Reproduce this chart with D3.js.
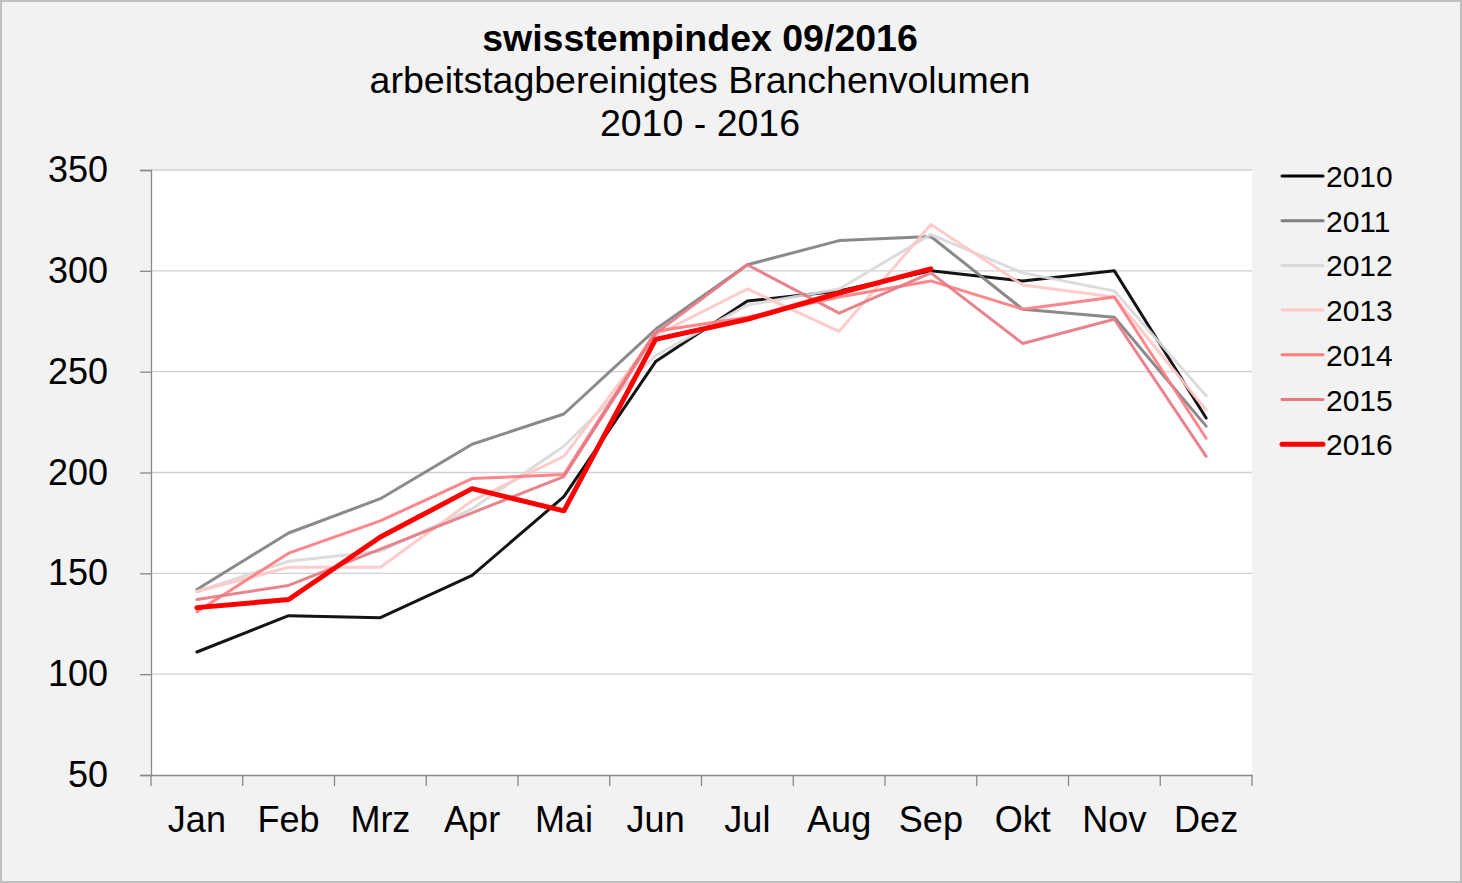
<!DOCTYPE html>
<html><head><meta charset="utf-8">
<script src="https://cdn.jsdelivr.net/npm/d3@7"></script>
<style>
html,body{margin:0;padding:0;background:#f2f2f2;}
svg{display:block;font-family:"Liberation Sans",Arial,sans-serif;}
</style></head>
<body>
<svg id="chart" width="1462" height="883"></svg>
<script>
const months = ["Jan","Feb","Mrz","Apr","Mai","Jun","Jul","Aug","Sep","Okt","Nov","Dez"];
const years = ["2010","2011","2012","2013","2014","2015","2016"];
const v2010 = [111,129,128,149,188,255,285,290,300,295,300,227];
const v2011 = [142,170,187,214,229,271,303,315,317,281,277,223];
const v2012 = [141,156,161,182,213,258,283,291,318,299,290,238];
const v2013 = [141,153,153,186,208,268,291,270,323,293,287,231];
const v2014 = [131,160,176,197,199,270,277,287,295,281,287,217];
const v2015 = [137,144,162,180,198,269,303,279,299,264,276,208];
const v2016 = [133,137,168,192,181,266,276,289,301];
const yTicks = [50,100,150,200,250,300,350];
const titleLines = ["swisstempindex 09/2016","arbeitstagbereinigtes Branchenvolumen","2010 - 2016"];

const seriesValues = [v2010,v2011,v2012,v2013,v2014,v2015,v2016];
const colors = ["#000000","#808080","#d9d9d9","#ffc7c7","#ff7c80","#e57a83","#ff0000"];
const widths = [3,3,3,3,3,3,5];

const svg = d3.select("#chart");
const W = 1462, H = 883;
const L = 151, R = 1252, T = 170, B = 775;

svg.append("rect").attr("x",1).attr("y",1).attr("width",W-2).attr("height",H-2)
  .attr("fill","#f2f2f2").attr("stroke","#bfbfbf").attr("stroke-width",2);

svg.append("rect").attr("x",L).attr("y",T).attr("width",R-L).attr("height",B-T).attr("fill","#ffffff");

const x = d3.scaleBand().domain(months).range([L,R]);
const y = d3.scaleLinear().domain([50,350]).range([B,T]);

// gridlines
svg.append("g").selectAll("line").data(yTicks.filter(d=>d>50)).join("line")
  .attr("x1",L).attr("x2",R).attr("y1",d=>y(d)).attr("y2",d=>y(d))
  .attr("stroke","#d0d0d0").attr("stroke-width",1.3);

// y axis
const yAxis = d3.axisLeft(y).tickValues(yTicks).tickSize(11).tickPadding(32).tickFormat(d3.format("d"));
const gy = svg.append("g").attr("transform",`translate(${L},0)`).call(yAxis);
gy.select(".domain").attr("stroke","#898989").attr("stroke-width",1.3);
gy.selectAll(".tick line").attr("stroke","#898989").attr("stroke-width",1.3);
gy.selectAll("text").attr("font-size",36).attr("fill","#000").attr("font-family","Liberation Sans, Arial, sans-serif");

// x axis
const xAxis = d3.axisBottom(x).tickSize(0).tickPadding(31);
const gx = svg.append("g").attr("transform",`translate(0,${B})`).call(xAxis);
gx.select(".domain").attr("stroke","#898989").attr("stroke-width",1.3);
gx.selectAll("text").attr("font-size",36).attr("fill","#000").attr("font-family","Liberation Sans, Arial, sans-serif");
// ticks at band boundaries
const bounds = months.map(m=>x(m)).concat([R]);
svg.append("g").selectAll("line").data(bounds).join("line")
  .attr("x1",d=>d).attr("x2",d=>d).attr("y1",B).attr("y2",B+11)
  .attr("stroke","#898989").attr("stroke-width",1.3);

// lines
const line = d3.line().x((d,i)=>x(months[i])+x.bandwidth()/2).y(d=>y(d));
svg.append("g").selectAll("path").data(seriesValues).join("path")
  .attr("d",d=>line(d)).attr("fill","none")
  .attr("stroke",(d,i)=>colors[i]).attr("stroke-width",(d,i)=>widths[i])
  .attr("stroke-linejoin","round").attr("stroke-linecap","round")
  .attr("opacity",(d,i)=>i===6?1:0.92);

// title
svg.append("g").selectAll("text").data(titleLines).join("text")
  .attr("x",700).attr("y",(d,i)=>[51,93,136][i])
  .attr("text-anchor","middle").attr("font-size",37.5)
  .attr("font-weight",(d,i)=>i===0?"bold":"normal")
  .attr("fill","#000").text(d=>d);

// legend
const lg = svg.append("g").selectAll("g").data(years).join("g")
  .attr("transform",(d,i)=>`translate(1282,${176+i*44.7})`);
lg.append("line").attr("x1",0).attr("x2",41).attr("y1",0).attr("y2",0)
  .attr("stroke",(d,i)=>colors[i]).attr("stroke-width",(d,i)=>widths[i])
  .attr("stroke-linecap","round");
lg.append("text").attr("x",44).attr("y",11).attr("font-size",30).attr("fill","#000").text(d=>d);
</script>
</body></html>
